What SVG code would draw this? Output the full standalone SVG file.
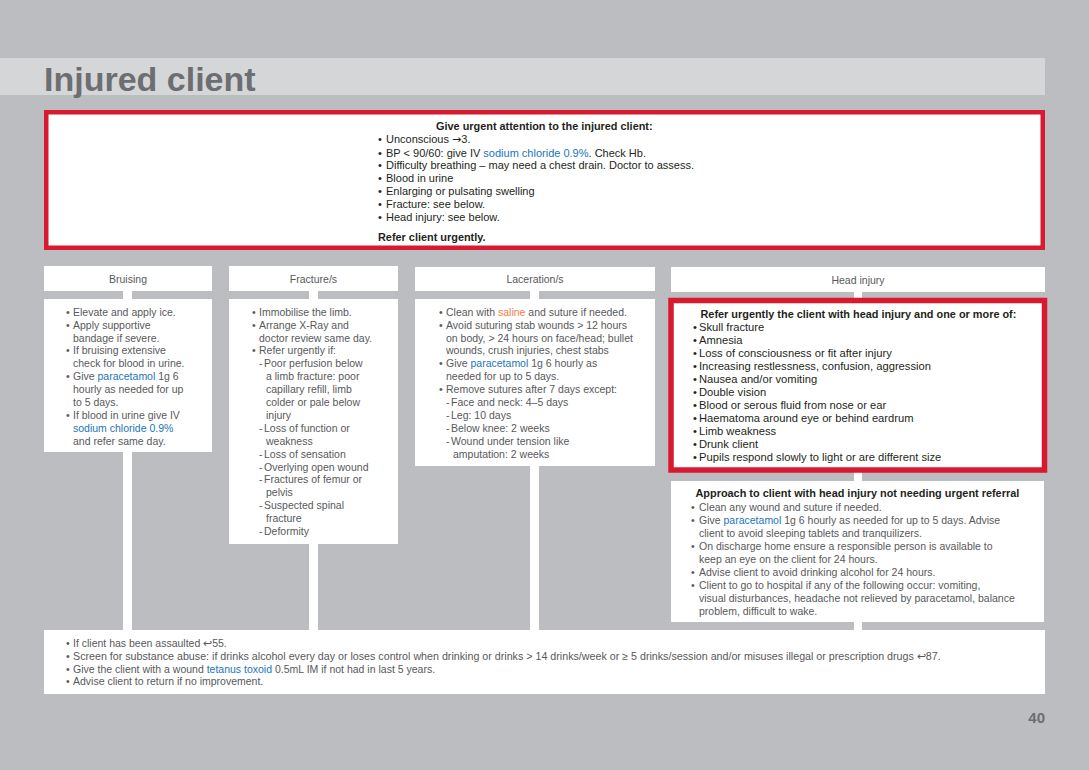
<svg xmlns="http://www.w3.org/2000/svg" width="1089" height="770" viewBox="0 0 1089 770">
<style>
.box{fill:#fff}
.red{fill:#fff;stroke:#d8192f}
text{font-family:"Liberation Sans",Arial,sans-serif}
.k{font-size:11px;fill:#231f20}
.kh{font-size:11.2px;fill:#231f20}
.g{font-size:10.5px;fill:#58595b}
.b{font-weight:bold;font-size:10.9px;fill:#231f20}
.hd{font-size:10.5px;fill:#58595b;text-anchor:middle}
.bl{fill:#1b75bb}
.or{fill:#f47c4a}
.ar{font-family:"DejaVu Sans",sans-serif}
.conn{fill:#fff}
</style>
<rect width="1089" height="770" fill="#bcbdc1"/>
<g id="title">
<rect x="0" y="58" width="1045" height="37" fill="#d5d6d8"/>
<text x="44" y="91" font-size="34" font-weight="bold" fill="#6d6e71">Injured client</text>
</g>
<g id="connectors">
<rect class="conn" x="123" y="285" width="9" height="350"/>
<rect class="conn" x="309" y="285" width="9" height="350"/>
<rect class="conn" x="530" y="285" width="9" height="350"/>
<rect class="conn" x="854" y="285" width="8" height="350"/>
</g>
<g id="urgent">
<rect class="red" x="46.25" y="112.25" width="996.5" height="135.5" stroke-width="4.5"/>
<text class="b" x="436" y="130">Give urgent attention to the injured client:</text>
<g class="k">
<text x="378" y="143">•</text><text x="386" y="143">Unconscious <tspan class="ar">→</tspan>3.</text>
<text x="378" y="156.5">•</text><text x="386" y="156.5">BP &lt; 90/60: give IV <tspan class="bl">sodium chloride 0.9%</tspan>. Check Hb.</text>
<text x="378" y="169">•</text><text x="386" y="169">Difficulty breathing – may need a chest drain. Doctor to assess.</text>
<text x="378" y="182">•</text><text x="386" y="182">Blood in urine</text>
<text x="378" y="195">•</text><text x="386" y="195">Enlarging or pulsating swelling</text>
<text x="378" y="208">•</text><text x="386" y="208">Fracture: see below.</text>
<text x="378" y="221">•</text><text x="386" y="221">Head injury: see below.</text>
</g>
<text class="b" x="378" y="241">Refer client urgently.</text>
</g>
<g id="bruising-header">
<rect class="box" x="44" y="266" width="168" height="25"/>
<text class="hd" x="128" y="283">Bruising</text>
</g>
<g id="bruising">
<rect class="box" x="44" y="299" width="168" height="153"/>
<g class="g">
<text x="66" y="315.7">•</text><text x="73" y="315.7">Elevate and apply ice.</text>
<text x="66" y="328.6">•</text><text x="73" y="328.6">Apply supportive</text>
<text x="73" y="341.5">bandage if severe.</text>
<text x="66" y="354.4">•</text><text x="73" y="354.4">If bruising extensive</text>
<text x="73" y="367.3">check for blood in urine.</text>
<text x="66" y="380.2">•</text><text x="73" y="380.2">Give <tspan class="bl">paracetamol</tspan> 1g 6</text>
<text x="73" y="393.1">hourly as needed for up</text>
<text x="73" y="406">to 5 days.</text>
<text x="66" y="418.9">•</text><text x="73" y="418.9">If blood in urine give IV</text>
<text x="73" y="431.8" class="bl">sodium chloride 0.9%</text>
<text x="73" y="444.7">and refer same day.</text>
</g>
</g>
<g id="fracture-header">
<rect class="box" x="229" y="266" width="169" height="25"/>
<text class="hd" x="313.5" y="283">Fracture/s</text>
</g>
<g id="fracture">
<rect class="box" x="229" y="299" width="169" height="245"/>
<g class="g">
<text x="252" y="315.7">•</text><text x="259" y="315.7">Immobilise the limb.</text>
<text x="252" y="328.6">•</text><text x="259" y="328.6">Arrange X-Ray and</text>
<text x="259" y="341.5">doctor review same day.</text>
<text x="252" y="354.4">•</text><text x="259" y="354.4">Refer urgently if:</text>
<text x="259" y="367.3">-</text><text x="264" y="367.3">Poor perfusion below</text>
<text x="266" y="380.2">a limb fracture: poor</text>
<text x="266" y="393.1">capillary refill, limb</text>
<text x="266" y="406">colder or pale below</text>
<text x="266" y="418.9">injury</text>
<text x="259" y="431.8">-</text><text x="264" y="431.8">Loss of function or</text>
<text x="266" y="444.7">weakness</text>
<text x="259" y="457.6">-</text><text x="264" y="457.6">Loss of sensation</text>
<text x="259" y="470.5">-</text><text x="264" y="470.5">Overlying open wound</text>
<text x="259" y="483.4">-</text><text x="264" y="483.4">Fractures of femur or</text>
<text x="266" y="496.3">pelvis</text>
<text x="259" y="509.2">-</text><text x="264" y="509.2">Suspected spinal</text>
<text x="266" y="522.1">fracture</text>
<text x="259" y="535">-</text><text x="264" y="535">Deformity</text>
</g>
</g>
<g id="laceration-header">
<rect class="box" x="415" y="267" width="240" height="24"/>
<text class="hd" x="535" y="283">Laceration/s</text>
</g>
<g id="laceration">
<rect class="box" x="415" y="299" width="240" height="167"/>
<g class="g">
<text x="439" y="315.7">•</text><text x="446" y="315.7">Clean with <tspan class="or">saline</tspan> and suture if needed.</text>
<text x="439" y="328.6">•</text><text x="446" y="328.6">Avoid suturing stab wounds &gt; 12 hours</text>
<text x="446" y="341.5">on body, &gt; 24 hours on face/head; bullet</text>
<text x="446" y="354.4">wounds, crush injuries, chest stabs</text>
<text x="439" y="367.3">•</text><text x="446" y="367.3">Give <tspan class="bl">paracetamol</tspan> 1g 6 hourly as</text>
<text x="446" y="380.2">needed for up to 5 days.</text>
<text x="439" y="393.1">•</text><text x="446" y="393.1">Remove sutures after 7 days except:</text>
<text x="446" y="406">-</text><text x="451" y="406">Face and neck: 4–5 days</text>
<text x="446" y="418.9">-</text><text x="451" y="418.9">Leg: 10 days</text>
<text x="446" y="431.8">-</text><text x="451" y="431.8">Below knee: 2 weeks</text>
<text x="446" y="444.7">-</text><text x="451" y="444.7">Wound under tension like</text>
<text x="453" y="457.6">amputation: 2 weeks</text>
</g>
</g>
<g id="head-header">
<rect class="box" x="671" y="267" width="374" height="25"/>
<text class="hd" x="858" y="284">Head injury</text>
</g>
<g id="head-urgent">
<rect class="red" x="671" y="300.5" width="373.5" height="169.5" stroke-width="5.5"/>
<text class="b" x="700.5" y="318">Refer urgently the client with head injury and one or more of:</text>
<g class="kh">
<text x="693" y="330.7">•</text><text x="699" y="330.7">Skull fracture</text>
<text x="693" y="343.7">•</text><text x="699" y="343.7">Amnesia</text>
<text x="693" y="356.7">•</text><text x="699" y="356.7">Loss of consciousness or fit after injury</text>
<text x="693" y="369.7">•</text><text x="699" y="369.7">Increasing restlessness, confusion, aggression</text>
<text x="693" y="382.7">•</text><text x="699" y="382.7">Nausea and/or vomiting</text>
<text x="693" y="395.7">•</text><text x="699" y="395.7">Double vision</text>
<text x="693" y="408.7">•</text><text x="699" y="408.7">Blood or serous fluid from nose or ear</text>
<text x="693" y="421.7">•</text><text x="699" y="421.7">Haematoma around eye or behind eardrum</text>
<text x="693" y="434.7">•</text><text x="699" y="434.7">Limb weakness</text>
<text x="693" y="447.7">•</text><text x="699" y="447.7">Drunk client</text>
<text x="693" y="460.7">•</text><text x="699" y="460.7">Pupils respond slowly to light or are different size</text>
</g>
</g>
<g id="head-approach">
<rect class="box" x="671" y="481" width="373" height="141"/>
<text class="b" x="695.5" y="497">Approach to client with head injury not needing urgent referral</text>
<g class="g">
<text x="691" y="510.5">•</text><text x="699" y="510.5">Clean any wound and suture if needed.</text>
<text x="691" y="523.5">•</text><text x="699" y="523.5">Give <tspan class="bl">paracetamol</tspan> 1g 6 hourly as needed for up to 5 days. Advise</text>
<text x="699" y="536.5">client to avoid sleeping tablets and tranquilizers.</text>
<text x="691" y="549.5">•</text><text x="699" y="549.5">On discharge home ensure a responsible person is available to</text>
<text x="699" y="562.5">keep an eye on the client for 24 hours.</text>
<text x="691" y="575.5">•</text><text x="699" y="575.5">Advise client to avoid drinking alcohol for 24 hours.</text>
<text x="691" y="588.5">•</text><text x="699" y="588.5">Client to go to hospital if any of the following occur: vomiting,</text>
<text x="699" y="601.5">visual disturbances, headache not relieved by paracetamol, balance</text>
<text x="699" y="614.5">problem, difficult to wake.</text>
</g>
</g>
<g id="general">
<rect class="box" x="44" y="630" width="1001" height="64"/>
<g class="g">
<text x="66" y="647">•</text><text x="73" y="647">If client has been assaulted ↩55.</text>
<text x="66" y="660">•</text><text x="73" y="660" font-size="10.7">Screen for substance abuse: if drinks alcohol every day or loses control when drinking or drinks &gt; 14 drinks/week or ≥ 5 drinks/session and/or misuses illegal or prescription drugs ↩87.</text>
<text x="66" y="672.5">•</text><text x="73" y="672.5">Give the client with a wound <tspan class="bl">tetanus toxoid</tspan> 0.5mL IM if not had in last 5 years.</text>
<text x="66" y="685">•</text><text x="73" y="685">Advise client to return if no improvement.</text>
</g>
</g>
<text x="1045" y="723" font-size="15" font-weight="bold" fill="#6d6e71" text-anchor="end">40</text>
</svg>
